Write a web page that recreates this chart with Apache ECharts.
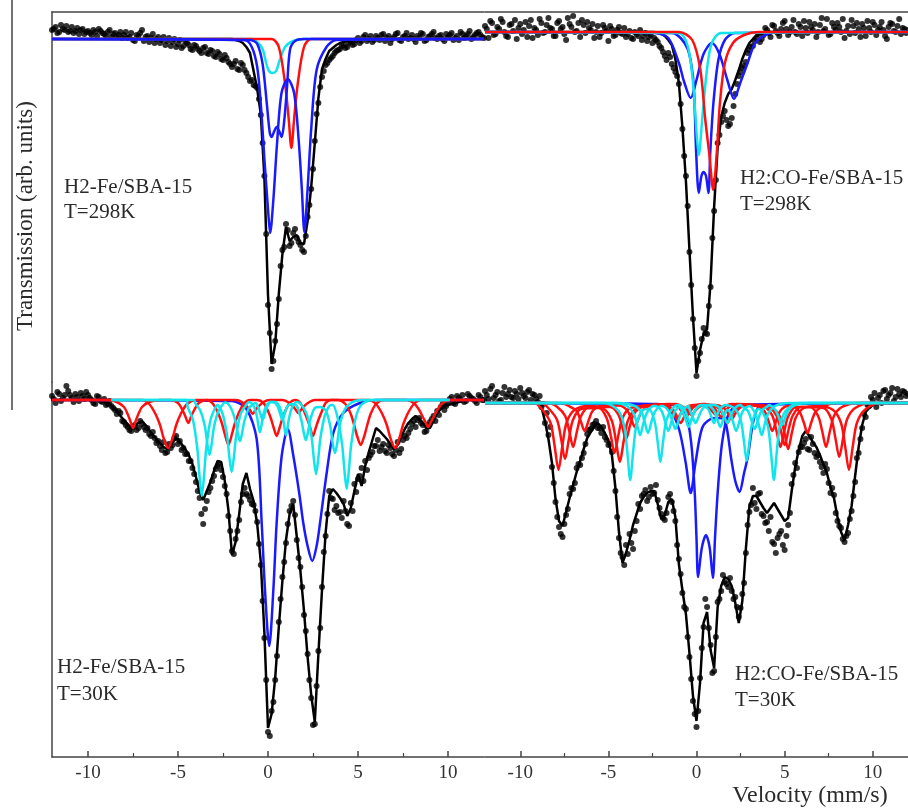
<!DOCTYPE html>
<html>
<head>
<meta charset="utf-8">
<title>Mössbauer spectra Fe/SBA-15</title>
<script src="https://cdn.jsdelivr.net/npm/echarts@6.0.0/dist/echarts.min.js"></script>
<style>
html, body { margin: 0; padding: 0; background: #fff; }
#chart { width: 908px; height: 810px; }
</style>
</head>
<body>
<div id="chart"></div>
<script>
// velocity channels (mm/s): even channels carry the fit, odd channels are the in-between measurements
var vel = [-12,-11.8,-11.6,-11.4,-11.2,-11,-10.8,-10.6,-10.4,-10.2,
  -10,-9.8,-9.6,-9.4,-9.2,-9,-8.8,-8.6,-8.4,-8.2,
  -8,-7.8,-7.6,-7.4,-7.2,-7,-6.8,-6.6,-6.4,-6.2,
  -6,-5.8,-5.6,-5.4,-5.2,-5,-4.8,-4.6,-4.4,-4.2,
  -4,-3.8,-3.6,-3.4,-3.2,-3,-2.8,-2.6,-2.4,-2.2,
  -2,-1.8,-1.6,-1.4,-1.2,-1,-0.8,-0.6,-0.4,-0.2,
  0,0.2,0.4,0.6,0.8,1,1.2,1.4,1.6,1.8,
  2,2.2,2.4,2.6,2.8,3,3.2,3.4,3.6,3.8,
  4,4.2,4.4,4.6,4.8,5,5.2,5.4,5.6,5.8,
  6,6.2,6.4,6.6,6.8,7,7.2,7.4,7.6,7.8,
  8,8.2,8.4,8.6,8.8,9,9.2,9.4,9.6,9.8,
  10,10.2,10.4,10.6,10.8,11,11.2,11.4,11.6,11.8,
  12];
var velOdd = [-11.9,-11.7,-11.5,-11.3,-11.1,-10.9,-10.7,-10.5,-10.3,-10.1,
  -9.9,-9.7,-9.5,-9.3,-9.1,-8.9,-8.7,-8.5,-8.3,-8.1,
  -7.9,-7.7,-7.5,-7.3,-7.1,-6.9,-6.7,-6.5,-6.3,-6.1,
  -5.9,-5.7,-5.5,-5.3,-5.1,-4.9,-4.7,-4.5,-4.3,-4.1,
  -3.9,-3.7,-3.5,-3.3,-3.1,-2.9,-2.7,-2.5,-2.3,-2.1,
  -1.9,-1.7,-1.5,-1.3,-1.1,-0.9,-0.7,-0.5,-0.3,-0.1,
  0.1,0.3,0.5,0.7,0.9,1.1,1.3,1.5,1.7,1.9,
  2.1,2.3,2.5,2.7,2.9,3.1,3.3,3.5,3.7,3.9,
  4.1,4.3,4.5,4.7,4.9,5.1,5.3,5.5,5.7,5.9,
  6.1,6.3,6.5,6.7,6.9,7.1,7.3,7.5,7.7,7.9,
  8.1,8.3,8.5,8.7,8.9,9.1,9.3,9.5,9.7,9.9,
  10.1,10.3,10.5,10.7,10.9,11.1,11.3,11.5,11.7,11.9];
var majorTicks = [-10, -5, 0, 5, 10];
var minorTicks = [-7.5, -2.5, 2.5, 7.5];

// ---- H2-Fe/SBA-15, 298 K ----
var dataTL = [100.9,101.2,100.7,101.0,101.3,100.8,100.6,101.1,100.9,100.5,
  100.8,100.4,100.7,101.0,100.6,100.3,100.9,100.5,100.2,100.7,
  100.4,100.1,100.6,99.8,100.3,100.9,100.2,99.7,100.5,100.0,
  99.6,100.2,99.8,99.3,100.0,99.5,99.1,99.8,99.4,98.9,
  99.3,98.8,99.1,98.6,98.9,98.3,98.7,98.0,98.4,97.7,
  97.2,97.8,96.9,97.4,96.6,95.8,95.4,95.1,92.4,86.3,
  73.4,67.0,69.8,74.0,78.9,81.5,79.3,80.6,80.1,79.4,
  78.7,82.2,85.0,89.8,93.6,96.2,97.4,97.9,98.3,98.8,
  99.0,99.4,99.2,99.7,99.5,100.1,99.8,100.4,100.0,99.7,
  100.3,99.9,100.5,100.1,99.6,100.2,100.6,99.8,100.3,100.0,
  100.4,99.7,100.1,100.5,99.9,100.3,100.7,100.0,100.4,99.8,
  100.2,100.6,100.1,99.9,100.5,100.3,100.8,100.2,100.6,100.4,
  100.1];
var dataTLOdd = [101.0,100.6,101.4,100.9,100.7,101.2,100.8,100.5,101.0,100.7,
  100.6,100.9,100.3,100.8,100.5,100.7,100.2,100.6,100.4,100.1,
  100.7,100.2,99.9,100.4,100.6,99.8,100.3,100.1,99.6,100.2,
  99.9,99.4,100.1,99.7,99.2,99.9,99.3,99.6,99.0,99.4,
  99.0,98.6,99.2,98.5,98.8,98.2,98.5,97.9,98.1,97.5,
  97.5,97.0,97.6,96.9,96.2,95.9,95.3,94.0,89.6,80.5,
  70.6,67.8,71.5,77.3,79.2,80.9,79.6,81.0,79.7,78.9,
  80.3,83.4,87.0,92.5,95.2,96.8,97.6,98.1,98.6,98.9,
  99.3,99.1,99.6,99.4,99.9,99.6,100.2,99.8,100.3,99.9,
  100.1,100.4,99.8,100.3,100.0,100.5,99.9,100.2,100.6,100.1,
  100.0,100.3,100.6,99.8,100.2,100.5,100.1,100.3,100.0,100.5,
  100.4,99.9,100.3,100.7,100.1,100.5,100.0,100.4,100.7,100.2];
var fitTL = [100,100,100,100,100,100,100,100,100,100,
  100,100,100,100,100,100,100,100,100,100,
  100,100,100,100,100,100,100,100,100,100,
  100,100,100,100,100,100,100,100,100,100,
  100,100,100,100,100,100,100,100,100,100,
  100,99.9,99.8,99.6,99.2,98.6,96.8,95.0,92.5,86.1,
  74.4,67.5,69.5,74.5,78.5,81.2,79.8,80.2,80.4,79.6,
  79.5,81.8,85.2,89.6,94.1,97.0,98.0,98.8,99.1,99.4,
  99.6,99.7,99.8,99.8,99.9,99.9,100,100,100,100,
  100,100,100,100,100,100,100,100,100,100,
  100,100,100,100,100,100,100,100,100,100,
  100,100,100,100,100,100,100,100,100,100,
  100];
var cyanTL = [[-12,100],[-0.9,100],[-0.6,99.7],[-0.3,99.0],[-0.1,97.6],[0.05,96.8],[0.25,96.6],[0.45,96.8],[0.65,97.9],[0.95,99.2],[1.4,99.8],[2.0,100],[12,100]];
var redTL = [[-12,100],[0.2,100],[0.6,99.2],[0.95,95.5],[1.15,92.0],[1.3,89.1],[1.45,92.0],[1.65,95.5],[2.0,99.2],[2.4,100],[12,100]];
var blueQTL = [[-12,100],[-1.0,99.9],[-0.6,99.5],[-0.3,97.5],[-0.07,93.6],[0.1,90.6],[0.2,90.2],[0.35,90.8],[0.48,91.2],[0.62,90.8],[0.76,90.2],[0.9,91.8],[1.05,95.0],[1.22,98.9],[1.5,99.8],[2.0,100],[12,100]];
var bluePTL = [[-12,100],[-1.3,99.9],[-0.9,99.2],[-0.6,97.2],[-0.4,93.5],[-0.2,88.0],[0.0,83.0],[0.12,80.6],[0.3,84.0],[0.5,89.5],[0.75,94.6],[1.1,96.0],[1.45,94.6],[1.7,90.0],[1.88,85.0],[2.02,80.7],[2.2,85.0],[2.4,91.0],[2.7,96.9],[3.25,99.2],[3.8,99.9],[12,100]];

// ---- H2:CO-Fe/SBA-15, 298 K ----
var dataTR = [100.6,99.4,100.9,99.8,100.3,101.0,99.6,100.7,100.1,99.3,
  100.8,100.2,99.5,101.2,100.4,99.7,100.9,100.0,101.4,100.3,
  99.6,101.1,100.5,99.2,100.8,101.6,100.1,99.5,100.7,101.0,
  100.2,99.4,100.6,99.9,100.4,99.1,100.3,99.7,100.5,99.8,
  99.5,100.1,99.3,99.8,100.2,99.6,99.1,99.7,99.4,99.0,
  98.4,97.6,97.9,96.8,96.0,94.8,90.3,85.6,78.0,71.3,
  65.6,67.9,70.4,69.8,74.5,82.1,88.9,91.0,92.1,90.6,
  91.4,93.8,95.6,96.4,97.0,98.2,98.6,99.4,99.0,99.7,
  100.2,99.5,100.6,99.9,100.3,101.1,99.7,100.5,100.0,100.8,
  99.6,100.4,101.0,100.2,99.5,100.7,100.1,101.3,99.8,100.5,
  100.9,100.0,99.4,100.6,101.2,99.9,100.3,100.8,99.6,100.4,
  101.0,99.7,100.5,100.2,99.3,100.9,100.1,100.6,99.8,100.3,
  100.2];
var dataTROdd = [100.3,101.1,99.7,100.5,101.3,100.0,99.5,100.8,101.2,100.4,
  99.8,101.0,100.6,99.4,100.2,101.3,99.9,100.7,100.4,99.6,
  100.9,100.3,99.8,101.4,100.5,100.0,100.9,101.2,99.9,100.4,
  100.8,100.0,99.5,100.7,100.1,100.6,99.6,100.2,99.9,100.4,
  99.8,99.4,100.0,99.6,99.2,99.9,99.5,98.9,99.2,98.6,
  98.0,97.2,97.5,96.4,95.6,92.8,87.6,82.6,74.7,68.4,
  67.1,69.3,69.9,72.6,79.4,85.2,89.7,91.6,91.2,90.8,
  92.6,94.8,96.0,96.6,97.9,98.5,99.1,99.8,99.3,100.4,
  99.9,100.7,100.1,99.6,100.9,100.3,100.0,101.2,99.8,100.5,
  101.1,99.9,100.5,100.8,100.0,101.4,100.3,99.7,100.9,100.2,
  100.5,101.3,100.1,99.8,100.6,100.9,99.5,100.4,101.1,100.0,
  100.7,100.2,101.0,99.6,100.5,100.8,100.0,101.3,100.4,99.9];
var fitTR = [100,100,100,100,100,100,100,100,100,100,
  100,100,100,100,100,100,100,100,100,100,
  100,100,100,100,100,100,100,100,100,100,
  100,100,100,100,100,100,100,100,100,100,
  100,100,100,100,100,100,100,100,100,99.9,
  99.8,99.6,99.2,98.7,97.3,94.9,90.5,85.1,78.2,71.5,
  65.9,68.2,69.8,70.3,75.0,82.5,88.5,91.5,92.9,93.8,
  94.3,95.2,96.2,97.3,98.2,98.9,99.3,99.65,99.8,99.9,
  100,100,100,100,100,100,100,100,100,100,
  100,100,100,100,100,100,100,100,100,100,
  100,100,100,100,100,100,100,100,100,100,
  100,100,100,100,100,100,100,100,100,100,
  100];
var blueATR = [[-12,100],[-2.4,99.9],[-1.6,99.4],[-1.0,96.9],[-0.7,95.0],[-0.33,93.4],[0.0,95.2],[0.4,97.8],[0.87,98.9],[1.3,97.8],[1.75,95.2],[2.13,93.3],[2.5,95.0],[2.9,96.9],[3.3,98.8],[3.8,99.6],[4.5,100],[12,100]];
var blueBTR = [[-12,100],[-1.4,99.9],[-0.9,99.4],[-0.5,98.3],[-0.3,96.8],[-0.15,94.5],[-0.02,88.0],[0.13,83.9],[0.28,85.6],[0.41,86.0],[0.54,85.6],[0.68,83.9],[0.78,87.9],[0.96,92.9],[1.24,97.2],[1.61,99.2],[2.17,99.9],[12,100]];
var cyanTR = [[-12,100],[-1.0,99.9],[-0.5,98.6],[-0.2,95.0],[0.0,90.0],[0.13,87.7],[0.32,91.2],[0.59,96.2],[0.87,98.9],[1.4,99.9],[12,100]];
var redTR = [[-12,100],[-1.0,100],[-0.24,99.2],[0.22,96.2],[0.5,91.2],[0.72,87.9],[0.95,84.2],[1.15,87.9],[1.33,92.9],[1.61,96.9],[2.07,98.9],[2.7,99.7],[3.5,100],[12,100]];

// ---- H2-Fe/SBA-15, 30 K ----
var dataBL = [100.4,99.7,100.6,100.2,101.4,100.5,99.8,100.3,100.7,100.1,
  100.5,100.0,99.6,100.3,99.8,99.5,99.9,99.2,98.6,98.7,
  97.8,97.3,96.9,97.5,97.2,97.6,97.0,96.6,96.8,95.7,
  95.4,95.8,94.8,95.2,96.2,95.6,95.0,94.6,93.9,93.2,
  91.8,90.2,87.6,89.9,91.2,92.4,93.4,93.0,91.4,88.4,
  84.9,86.1,88.0,90.6,90.6,90.0,89.5,87.8,83.5,76.2,
  66.8,68.9,72.0,77.8,82.3,85.7,88.9,89.9,86.0,83.3,
  78.5,74.6,70.2,67.6,74.9,81.3,86.4,90.9,90.1,89.4,
  88.8,89.9,87.6,89.7,91.6,92.1,93.2,93.9,94.2,94.8,
  95.4,94.9,95.6,94.7,95.2,94.4,95.8,95.1,96.4,96.7,
  97.6,97.3,98.2,97.5,96.9,97.8,98.4,98.9,99.3,99.0,
  99.8,100.3,99.6,100.2,100.5,99.9,100.4,100.1,99.7,100.3,
  100.0];
var dataBLOdd = [100.1,100.8,99.9,100.5,100.9,100.2,100.6,99.9,100.4,100.8,
  100.2,99.7,100.4,99.9,100.1,99.6,99.4,99.0,98.9,97.9,
  97.5,97.0,97.3,97.0,97.9,97.3,97.2,96.4,96.2,95.9,
  95.0,94.7,95.6,95.5,96.4,95.9,95.2,94.6,93.9,92.6,
  90.9,88.6,89.1,90.8,91.9,93.1,93.6,92.3,90.6,86.9,
  84.6,86.9,89.8,91.2,90.4,89.6,88.9,85.6,79.9,72.0,
  66.4,69.8,74.4,80.1,83.8,87.6,89.4,88.5,84.2,81.3,
  76.9,72.0,67.5,71.4,77.2,84.8,88.6,90.2,89.0,88.7,
  88.2,88.9,87.4,88.9,90.8,92.4,91.9,93.0,94.5,95.4,
  96.0,95.3,94.9,95.5,94.6,95.0,94.7,96.0,96.2,97.1,
  97.9,98.0,97.7,96.8,97.5,98.1,97.9,98.5,99.6,99.4,
  100.1,99.7,100.4,100.0,99.8,100.6,100.2,99.9,100.5,100.0];
var fitBL = [100,100,100,100,100,100,100,100,100,100,
  100,100,100,99.9,99.9,99.8,99.6,99.3,98.9,98.4,
  98.0,97.6,97.2,97.4,97.7,97.9,97.5,97.0,96.5,96.1,
  95.7,95.3,95.1,95.5,96.0,96.1,95.6,95.1,94.5,93.6,
  92.3,90.8,90.0,90.9,91.8,92.9,93.9,93.8,91.9,89.0,
  84.5,85.8,88.6,91.6,92.7,91.1,89.9,87.6,83.8,76.7,
  67.2,68.6,72.2,77.3,81.9,86.0,88.6,89.6,86.3,82.9,
  78.9,74.3,70.5,67.8,74.6,81.0,86.7,90.4,91.1,90.7,
  90.2,89.6,88.4,89.2,90.9,92.6,91.4,93.4,94.8,96.0,
  97.2,96.9,96.5,96.1,95.6,95.1,95.5,96.3,97.1,97.7,
  98.1,98.4,98.1,97.7,97.2,97.2,97.9,98.7,99.1,99.4,
  99.5,99.6,99.7,99.8,99.9,100,100,100,100,100,
  100];
var blueBL = [[-12,100],[-2.0,99.9],[-1.2,99.1],[-0.63,96.1],[-0.35,87.7],[-0.17,81.1],[0.07,75.4],[0.3,81.1],[0.48,87.7],[0.76,94.4],[1.1,97.1],[1.41,94.4],[1.75,90.5],[1.96,87.7],[2.2,85.4],[2.46,83.9],[2.7,85.4],[2.89,87.7],[3.26,92.7],[3.63,96.7],[4.18,98.7],[5.1,99.7],[6.0,100],[12,100]];
var red1BL = [[-12,100],[-8.9,100],[-8.4,99.8],[-8.0,99.3],[-7.8,98.6],[-7.65,97.9],[-7.5,97.2],[-7.35,97.9],[-7.2,98.6],[-7.0,99.3],[-6.6,99.8],[-6.0,100],
  [-5.4,100],[-5.0,99.7],[-4.75,99.0],[-4.6,98.4],[-4.43,97.7],[-4.26,98.4],[-4.1,99.0],[-3.85,99.7],[-3.4,100],
  [-1.8,100],[-1.45,99.8],[-1.15,99.3],[-1.0,99.0],[-0.85,98.6],[-0.7,99.0],[-0.55,99.3],[-0.25,99.8],[0.1,100],
  [0.8,100],[1.1,99.8],[1.4,99.35],[1.55,99.0],[1.69,98.7],[1.83,99.0],[1.98,99.35],[2.3,99.8],[2.6,100],
  [3.9,100],[4.3,99.6],[4.6,98.6],[4.8,97.4],[4.95,96.4],[5.15,95.5],[5.35,96.4],[5.5,97.4],[5.7,98.6],[6.0,99.6],[6.4,100],
  [7.7,100],[8.1,99.7],[8.4,99.0],[8.6,98.3],[8.75,97.8],[8.9,97.3],[9.05,97.8],[9.2,98.3],[9.4,99.0],[9.7,99.7],[10.1,100],[12,100]];
var red2BL = [[-12,100],[-7.0,100],[-6.6,99.6],[-6.25,98.6],[-6.0,97.5],[-5.8,96.2],[-5.55,95.2],[-5.3,96.2],[-5.1,97.5],[-4.85,98.6],[-4.5,99.6],[-4.0,100],
  [-3.4,100],[-3.05,99.6],[-2.75,98.6],[-2.55,97.6],[-2.4,96.6],[-2.2,95.5],[-2.0,96.6],[-1.85,97.6],[-1.65,98.6],[-1.35,99.6],[-1.0,100],
  [-0.6,100],[-0.25,99.7],[0.0,98.9],[0.17,98.1],[0.32,97.2],[0.48,96.4],[0.64,97.2],[0.79,98.1],[0.96,98.9],[1.2,99.7],[1.5,100],
  [1.8,99.7],[2.0,98.9],[2.2,98.0],[2.35,97.2],[2.5,96.4],[2.65,97.2],[2.8,98.0],[3.0,98.9],[3.2,99.7],[3.5,100],
  [5.6,100],[6.0,99.6],[6.35,98.6],[6.6,97.5],[6.8,96.2],[7.06,95.2],[7.3,96.2],[7.5,97.5],[7.75,98.6],[8.1,99.6],[8.5,100],[12,100]];
var cyan1BL = [[-8.7,100],[-4.5,100],
  [-4.48,99.4],[-4.18,98.1],[-3.93,95.2],[-3.8,92.3],[-3.68,90.4],[-3.56,92.3],[-3.43,95.2],[-3.18,98.1],[-2.88,99.4],
  [-2.82,99.5],[-2.52,98.6],[-2.27,96.4],[-2.14,94.2],[-2.02,92.8],[-1.9,94.2],[-1.77,96.4],[-1.52,98.6],[-1.22,99.5],
  [-1.05,99.8],[-0.8,99.4],[-0.62,98.4],[-0.53,97.4],[-0.45,96.8],[-0.37,97.4],[-0.28,98.4],[-0.1,99.4],[0.15,99.8],
  [0.4,99.8],[0.65,99.3],[0.83,98.2],[0.92,97.2],[1.0,96.5],[1.08,97.2],[1.17,98.2],[1.35,99.3],[1.6,99.8],
  [1.87,99.5],[2.17,98.5],[2.42,96.3],[2.55,94.1],[2.67,92.6],[2.79,94.1],[2.92,96.3],[3.17,98.5],[3.5,99.5],
  [3.6,99.5],[3.87,98.2],[4.12,95.5],[4.25,92.9],[4.37,91.1],[4.49,92.9],[4.62,95.5],[4.87,98.2],[5.17,99.5],
  [5.8,100],[10.1,100]];
var cyan2BL = [[-8.7,100],[-4.1,100],
  [-4.05,99.7],[-3.75,98.9],[-3.5,97.3],[-3.37,95.6],[-3.25,94.5],[-3.13,95.6],[-3.0,97.3],[-2.75,98.9],[-2.45,99.7],
  [-2.36,99.75],[-2.06,99.2],[-1.81,97.9],[-1.68,96.7],[-1.56,95.9],[-1.44,96.7],[-1.31,97.9],[-1.06,99.2],[-0.8,99.6],
  [-0.7,99.7],[-0.55,99.3],[-0.42,98.6],[-0.3,98.0],[-0.18,98.6],[-0.05,99.3],[0.15,99.8],
  [0.4,99.7],[0.55,99.3],[0.68,98.6],[0.8,98.0],[0.92,98.6],[1.05,99.3],[1.3,99.6],
  [1.6,99.4],[1.85,98.0],[1.98,96.8],[2.1,96.0],[2.22,96.8],[2.35,98.0],[2.6,99.2],[2.9,99.3],
  [3.22,98.9],[3.47,97.3],[3.6,95.6],[3.72,94.7],[3.84,95.6],[3.97,97.3],[4.22,98.9],[4.6,99.7],[5.2,100],[10.1,100]];

// ---- H2:CO-Fe/SBA-15, 30 K ----
var dataBR = [101.2,100.4,101.7,100.8,100.2,101.0,100.6,101.3,100.5,100.9,
  101.5,100.7,101.1,100.3,100.8,100.1,99.6,98.0,96.8,93.6,
  90.1,87.6,86.6,88.8,90.9,91.4,93.5,93.8,95.0,96.9,
  97.4,97.9,97.5,97.0,96.6,95.8,95.1,91.2,86.5,84.6,
  85.8,86.9,85.4,88.2,89.4,90.9,90.2,91.6,91.0,90.3,
  88.9,88.3,90.6,90.1,88.2,84.4,81.0,79.4,74.6,70.2,
  67.6,72.5,77.6,79.6,75.8,73.2,80.1,81.2,82.1,81.6,
  81.2,80.6,78.6,80.9,85.0,89.1,91.5,89.4,91.0,88.7,
  88.1,88.6,85.9,86.5,87.2,85.3,87.8,91.9,94.0,95.1,
  95.6,96.4,95.3,95.9,94.6,94.1,93.0,93.4,91.0,90.8,
  88.2,87.5,86.1,87.0,89.2,92.1,95.0,97.5,98.6,99.7,
  100.3,99.6,100.8,101.2,100.4,101.0,100.2,101.4,100.6,101.1,
  100.9];
var dataBROdd = [100.8,101.4,100.5,101.1,100.3,101.6,100.9,100.6,101.2,100.4,
  101.0,100.5,101.3,100.9,100.4,100.7,99.9,99.0,97.6,92.0,
  88.6,86.9,87.9,89.4,91.5,92.0,93.9,94.5,95.9,97.3,
  97.8,98.2,97.5,97.6,96.3,95.9,93.2,88.6,85.0,83.8,
  84.9,86.0,87.2,89.9,90.7,91.3,90.6,90.9,91.8,89.5,
  88.5,89.0,90.9,89.2,85.8,82.9,79.6,76.6,72.4,68.9,
  69.2,75.5,80.4,77.5,73.0,76.6,80.4,82.8,81.9,82.5,
  80.4,79.6,79.5,82.0,87.8,89.8,90.0,90.9,88.9,88.0,
  87.2,86.1,85.0,86.9,85.8,86.7,89.0,92.8,93.5,95.6,
  96.0,95.4,96.6,95.0,94.8,93.6,93.9,92.0,91.5,89.0,
  87.7,86.4,86.7,88.4,90.7,94.5,96.4,98.9,99.8,100.6,
  101.0,100.5,100.0,101.3,100.8,101.5,100.6,100.9,101.2,100.7];
var fitBR = [100,100,100,100,100,100,100,100,100,100,
  100,100,100,100,100,100,99.6,98.2,96.4,94.0,
  90.4,88.2,87.7,89.1,90.5,91.8,93.1,94.2,95.4,96.5,
  97.1,97.6,98.0,97.6,97.0,96.2,94.8,91.5,87.1,84.0,
  85.0,86.3,87.8,88.9,90.0,90.6,91.0,91.2,91.2,89.9,
  88.4,88.8,90.1,90.4,88.6,83.9,81.3,78.9,75.0,70.7,
  68.2,72.0,78.0,79.1,75.3,73.5,79.6,81.7,82.6,82.4,
  81.7,80.0,78.0,80.2,85.4,89.6,90.7,90.7,90.1,89.5,
  89.0,89.5,90.0,89.4,88.8,88.2,88.5,91.2,93.6,95.3,
  96.7,97.2,96.7,96.1,95.6,94.8,93.9,93.0,91.6,90.5,
  88.6,87.1,86.3,87.8,89.7,92.7,95.6,97.8,99.1,99.5,
  99.8,99.9,100,100,100,100,100,100,100,100,
  100];
var blue1BR = [[-12,100],[-1.2,99.8],[-0.6,98.8],[-0.3,96.0],[-0.1,91.0],[0.0,86.5],[0.09,82.6],[0.3,85.5],[0.54,86.8],[0.75,85.5],[0.93,82.5],[1.05,86.5],[1.2,91.0],[1.45,96.0],[1.8,98.8],[2.4,99.8],[12,100]];
var blue2BR = [[-12,100],[-2.2,99.9],[-1.5,99.3],[-0.98,97.3],[-0.61,94.0],[-0.33,91.0],[-0.06,94.0],[0.32,97.5],[0.8,98.4],[1.2,98.5],[1.61,98.3],[1.98,94.3],[2.2,92.2],[2.44,91.1],[2.7,93.0],[2.91,94.6],[3.28,98.6],[3.7,99.8],[12,100]];
var red1BR = [[-12,100],[-9.2,100],
  [-8.73,99.3],[-8.28,98.0],[-8.05,95.7],[-7.83,93.3],[-7.61,95.7],[-7.38,98.0],[-6.93,99.3],[-6.1,99.7],
  [-5.25,99.4],[-4.8,98.2],[-4.57,96.2],[-4.35,94.1],[-4.13,96.2],[-3.9,98.2],[-3.45,99.4],[-2.6,99.8],
  [-1.8,99.8],[-1.35,99.4],[-1.12,98.7],[-0.9,98.0],[-0.68,98.7],[-0.45,99.4],[0.0,99.8],
  [0.85,99.8],[1.3,99.4],[1.53,98.7],[1.75,98.0],[1.97,98.7],[2.2,99.4],[2.65,99.8],[3.5,99.8],
  [4.3,99.5],[4.75,98.6],[4.98,97.1],[5.2,95.4],[5.42,97.1],[5.65,98.6],[6.1,99.5],[6.9,99.7],
  [7.75,99.3],[8.2,98.0],[8.43,95.7],[8.65,93.3],[8.87,95.7],[9.1,98.0],[9.55,99.3],[10.4,100],[12,100]];
var red2BR = [[-12,100],[-8.8,100],
  [-8.36,99.4],[-7.91,98.3],[-7.68,96.4],[-7.46,94.4],[-7.24,96.4],[-7.01,98.3],[-6.56,99.4],
  [-5.55,99.5],[-5.1,98.5],[-4.87,96.8],[-4.65,95.0],[-4.43,96.8],[-4.2,98.5],[-3.75,99.5],
  [-2.0,99.8],[-1.55,99.5],[-1.32,99.0],[-1.1,98.4],[-0.88,99.0],[-0.65,99.5],[-0.2,99.8],
  [1.1,99.8],[1.55,99.5],[1.78,99.0],[2.0,98.4],[2.22,99.0],[2.45,99.5],[2.9,99.8],
  [4.1,99.6],[4.55,98.7],[4.78,97.3],[5.0,95.8],[5.22,97.3],[5.45,98.7],[5.9,99.6],
  [7.2,99.5],[7.65,98.4],[7.88,96.5],[8.1,94.6],[8.32,96.5],[8.55,98.4],[9.0,99.5],[9.9,100],[12,100]];
var red3BR = [[-12,100],[-8.4,100],
  [-7.9,99.6],[-7.45,98.7],[-7.22,97.2],[-7.0,95.6],[-6.78,97.2],[-6.55,98.7],[-6.1,99.6],
  [-4.9,99.6],[-4.45,98.9],[-4.22,97.7],[-4.0,96.4],[-3.78,97.7],[-3.55,98.9],[-3.1,99.6],
  [-1.5,99.9],[-1.05,99.6],[-0.82,99.1],[-0.6,98.6],[-0.38,99.1],[-0.15,99.6],[0.3,99.9],
  [0.5,99.9],[0.95,99.6],[1.18,99.1],[1.4,98.6],[1.62,99.1],[1.85,99.6],[2.3,99.9],
  [3.86,99.6],[4.31,98.7],[4.54,97.2],[4.76,95.6],[4.98,97.2],[5.21,98.7],[5.66,99.6],
  [6.45,99.6],[6.9,98.7],[7.13,97.2],[7.35,95.6],[7.57,97.2],[7.8,98.7],[8.25,99.6],[9.2,100],[12,100]];
var red4BR = [[-12,100],[-7.7,100],
  [-7.25,99.7],[-6.8,99.2],[-6.57,98.2],[-6.35,97.2],[-6.13,98.2],[-5.9,99.2],[-5.45,99.7],
  [-4.4,99.75],[-3.95,99.3],[-3.72,98.5],[-3.5,97.6],[-3.28,98.5],[-3.05,99.3],[-2.6,99.75],
  [-1.2,99.9],[-0.75,99.6],[-0.52,99.2],[-0.3,98.8],[-0.08,99.2],[0.15,99.6],[0.45,99.8],
  [0.65,99.6],[0.88,99.2],[1.1,98.8],[1.32,99.2],[1.55,99.6],[2.0,99.9],
  [3.4,99.7],[3.85,99.2],[4.08,98.2],[4.3,97.2],[4.52,98.2],[4.75,99.2],[5.2,99.7],
  [5.45,99.7],[5.85,99.1],[6.08,98.1],[6.3,97.0],[6.52,98.1],[6.75,99.1],[7.2,99.7],[8.0,100],[12,100]];
var cyan1BR = [[-12,100],[-5.2,100],
  [-4.42,99.2],[-4.09,97.6],[-3.92,95.0],[-3.76,92.3],[-3.6,95.0],[-3.43,97.6],[-3.1,99.2],
  [-2.71,99.4],[-2.38,98.2],[-2.21,96.2],[-2.05,94.1],[-1.89,96.2],[-1.72,98.2],[-1.39,99.4],
  [-1.03,99.8],[-0.7,99.4],[-0.53,98.7],[-0.37,98.0],[-0.21,98.7],[-0.04,99.4],[0.29,99.8],
  [0.33,99.8],[0.66,99.4],[0.83,98.7],[0.99,98.0],[1.15,98.7],[1.32,99.4],[1.65,99.8],
  [2.19,99.4],[2.52,98.2],[2.69,96.2],[2.85,94.2],[3.01,96.2],[3.18,98.2],[3.51,99.4],
  [3.73,99.2],[4.06,97.6],[4.23,95.0],[4.39,92.3],[4.55,95.0],[4.72,97.6],[5.05,99.2],[5.8,100],[12,100]];
var cyan2BR = [[-12,100],[-4.6,100],
  [-3.95,99.7],[-3.58,99.0],[-3.39,98.0],[-3.2,96.8],[-3.01,98.0],[-2.82,99.0],[-2.45,99.7],
  [-2.35,99.7],[-1.98,99.2],[-1.79,98.2],[-1.6,97.2],[-1.41,98.2],[-1.22,99.2],[-0.95,99.6],
  [-0.83,99.3],[-0.64,98.5],[-0.45,97.6],[-0.26,98.5],[-0.07,99.3],[0.3,99.8],
  [0.6,99.8],[0.97,99.3],[1.16,98.5],[1.35,97.6],[1.54,98.5],[1.73,99.3],
  [1.87,99.2],[2.06,98.2],[2.25,97.2],[2.44,98.2],[2.63,99.2],[3.0,99.7],
  [3.32,99.0],[3.51,98.0],[3.7,96.8],[3.89,98.0],[4.08,99.0],[4.45,99.7],[5.2,100],[12,100]];
var cyan3BR = [[-12,100],[-4.3,100],
  [-3.5,99.7],[-3.13,99.1],[-2.94,98.1],[-2.75,97.0],[-2.56,98.1],[-2.37,99.1],[-2.0,99.7],
  [-1.95,99.7],[-1.58,99.2],[-1.39,98.3],[-1.2,97.4],[-1.01,98.3],[-0.82,99.2],[-0.45,99.7],
  [-0.4,99.4],[-0.24,98.7],[-0.05,98.0],[0.14,98.7],[0.33,99.4],[0.7,99.8],
  [1.0,99.8],[1.37,99.4],[1.56,98.7],[1.75,98.0],[1.94,98.7],[2.13,99.4],[2.5,99.8],
  [2.55,99.7],[2.92,99.2],[3.11,98.3],[3.3,97.4],[3.49,98.3],[3.68,99.2],[4.05,99.7],
  [4.1,99.8],[4.47,99.3],[4.66,98.6],[4.85,97.8],[5.04,98.6],[5.23,99.3],[5.6,99.8],[6.3,100],[12,100]];

var BLUE = '#1a1aff', CYAN = '#12e4ec', RED = '#ff1010';
var AXIS = '#444';
var FONT = "'Liberation Serif', 'Times New Roman', serif";

function channels(xs, y) {
  return xs.map(function (v, i) { return [v, y[i]]; });
}

function topAxis(g) {
  return {
    type: 'value', gridIndex: g, min: -12, max: 12, position: 'top',
    axisLine: {show: true, onZero: false, lineStyle: {color: AXIS, width: 1.5}},
    axisTick: {show: false}, axisLabel: {show: false}, splitLine: {show: false}
  };
}
function bottomAxis(g) {
  return {
    type: 'value', gridIndex: g, min: -12, max: 12, position: 'bottom',
    axisLine: {show: true, onZero: false, lineStyle: {color: AXIS, width: 1.5}},
    axisTick: {show: true, inside: true, length: 6, customValues: majorTicks, lineStyle: {color: AXIS, width: 1.5}},
    axisLabel: {show: true, customValues: majorTicks, margin: 7, color: '#333', fontFamily: FONT, fontSize: 19},
    splitLine: {show: false}
  };
}
function minorAxis(g) {
  return {
    type: 'value', gridIndex: g, min: -12, max: 12, position: 'bottom',
    axisLine: {show: false},
    axisTick: {show: true, inside: true, length: 4, customValues: minorTicks, lineStyle: {color: AXIS, width: 1.2}},
    axisLabel: {show: false}, splitLine: {show: false}
  };
}
function yAxisFor(g, min, max, showLine) {
  return {
    type: 'value', gridIndex: g, min: min, max: max,
    axisLine: {show: showLine, onZero: false, lineStyle: {color: AXIS, width: 1.5}},
    axisTick: {show: false}, axisLabel: {show: false}, splitLine: {show: false}
  };
}

var panels = [
  {ax: 0, fit: fitTL, meas: dataTL, measOdd: dataTLOdd, comps: [[cyanTL, CYAN], [redTL, RED], [blueQTL, BLUE], [bluePTL, BLUE]]},
  {ax: 1, fit: fitTR, meas: dataTR, measOdd: dataTROdd, comps: [[blueATR, BLUE], [blueBTR, BLUE], [cyanTR, CYAN], [redTR, RED]]},
  {ax: 2, fit: fitBL, meas: dataBL, measOdd: dataBLOdd, comps: [[blueBL, BLUE], [red1BL, RED], [red2BL, RED], [cyan1BL, CYAN], [cyan2BL, CYAN]]},
  {ax: 3, fit: fitBR, meas: dataBR, measOdd: dataBROdd, comps: [[blue1BR, BLUE], [blue2BR, BLUE], [red1BR, RED], [red2BR, RED], [red3BR, RED], [red4BR, RED], [cyan1BR, CYAN], [cyan2BR, CYAN], [cyan3BR, CYAN]]}
];

var series = [];
panels.forEach(function (p) {
  series.push({
    type: 'line', xAxisIndex: p.ax, yAxisIndex: p.ax, data: channels(vel, p.fit),
    showSymbol: false, lineStyle: {color: '#000', width: 2.5}, silent: true
  });
  series.push({
    type: 'scatter', xAxisIndex: p.ax, yAxisIndex: p.ax,
    data: channels(vel, p.meas).concat(channels(velOdd, p.measOdd)),
    symbolSize: 6, itemStyle: {color: '#000'}, silent: true, clip: false
  });
  p.comps.forEach(function (c) {
    series.push({
      type: 'line', xAxisIndex: p.ax, yAxisIndex: p.ax, data: c[0], smooth: 0.3,
      showSymbol: false, lineStyle: {color: c[1], width: 2.5}, silent: true
    });
  });
});

function label(x, y, text, size) {
  return {
    type: 'text', x: x, y: y, silent: true,
    style: {text: text, font: size + 'px ' + FONT, fill: '#2a2a2a', textAlign: 'left', textVerticalAlign: 'middle', align: 'left', verticalAlign: 'middle'}
  };
}

var chart = echarts.init(document.getElementById('chart'));
chart.setOption({
  animation: false,
  backgroundColor: '#fff',
  grid: [
    {left: 52, top: 12, width: 432, height: 370},
    {left: 485, top: 12, width: 432, height: 370},
    {left: 52, top: 382, width: 432, height: 375},
    {left: 485, top: 382, width: 432, height: 375}
  ],
  xAxis: [topAxis(0), topAxis(1), bottomAxis(2), bottomAxis(3), minorAxis(2), minorAxis(3)],
  yAxis: [yAxisFor(0, 65.7, 102.7, true), yAxisFor(1, 65, 102, false), yAxisFor(2, 64.3, 101.8, true), yAxisFor(3, 64.6, 102.1, false)],
  series: series,
  graphic: [
    {type: 'line', silent: true, shape: {x1: 12, y1: 0, x2: 12, y2: 410}, style: {stroke: AXIS, lineWidth: 1.5}},
    {type: 'text', x: 26, y: 216, rotation: Math.PI / 2, silent: true,
      style: {text: 'Transmission (arb. units)', font: '23px ' + FONT, fill: '#2a2a2a', textAlign: 'center', textVerticalAlign: 'middle', align: 'center', verticalAlign: 'middle'}},
    {type: 'text', x: 810, y: 796, silent: true,
      style: {text: 'Velocity (mm/s)', font: '24px ' + FONT, fill: '#2a2a2a', textAlign: 'center', textVerticalAlign: 'middle', align: 'center', verticalAlign: 'middle'}},
    label(64, 187, 'H2-Fe/SBA-15', 21),
    label(64, 212, 'T=298K', 21),
    label(740, 178, 'H2:CO-Fe/SBA-15', 21),
    label(740, 204, 'T=298K', 21),
    label(57, 667, 'H2-Fe/SBA-15', 21),
    label(57, 694, 'T=30K', 21),
    label(735, 674, 'H2:CO-Fe/SBA-15', 21),
    label(735, 700, 'T=30K', 21)
  ]
});
</script>
</body>
</html>
